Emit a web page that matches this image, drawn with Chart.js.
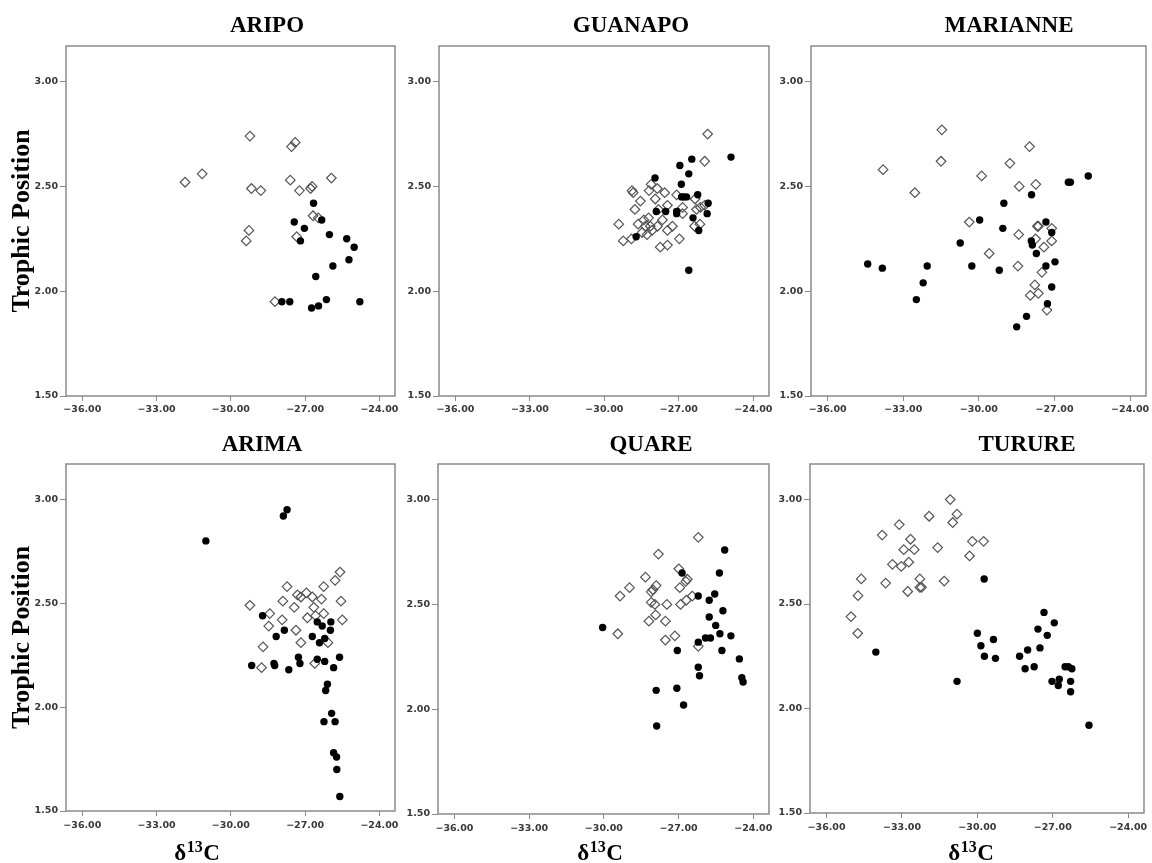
<!DOCTYPE html>
<html>
<head>
<meta charset="utf-8">
<title>Trophic position vs δ13C</title>
<script src="https://cdn.jsdelivr.net/npm/chart.js@4/dist/chart.umd.min.js"></script>
<style>
  html, body { margin: 0; padding: 0; background: #fff; }
  #page { position: relative; width: 1152px; height: 863px; overflow: hidden; background: #fff; }
  #page canvas { position: absolute; background: #fff; }
</style>
</head>
<body>
<div id="page"></div>
<script>
// Tick values shared by every panel
const xTicks = [-36, -33, -30, -27, -24];
const yTicks = [1.5, 2.0, 2.5, 3.0];

// [δ13C, trophic position] for each fish: open diamonds and filled dots
const aripoOpen = [[-31.85,2.52],[-31.16,2.56],[-29.23,2.74],[-29.17,2.49],[-28.79,2.48],[-29.27,2.29],[-29.38,2.24],[-27.55,2.69],[-27.40,2.71],[-27.60,2.53],[-27.23,2.48],[-26.78,2.49],[-26.72,2.50],[-25.94,2.54],[-26.68,2.36],[-26.47,2.35],[-27.34,2.26],[-28.22,1.95]];
const aripoFilled = [[-26.66,2.42],[-27.44,2.33],[-26.33,2.34],[-27.03,2.30],[-27.19,2.24],[-26.02,2.27],[-25.32,2.25],[-25.02,2.21],[-25.23,2.15],[-25.88,2.12],[-26.57,2.07],[-27.94,1.95],[-27.62,1.95],[-26.14,1.96],[-26.46,1.93],[-26.74,1.92],[-24.79,1.95]];

const guanapoOpen = [[-25.84,2.75],[-25.96,2.62],[-28.89,2.48],[-28.84,2.47],[-28.12,2.51],[-27.87,2.49],[-28.20,2.48],[-27.57,2.47],[-27.95,2.44],[-28.55,2.43],[-28.77,2.39],[-27.09,2.46],[-27.46,2.41],[-26.35,2.44],[-26.85,2.40],[-26.29,2.39],[-26.13,2.40],[-25.96,2.41],[-27.82,2.39],[-29.42,2.32],[-29.24,2.24],[-28.64,2.32],[-28.41,2.34],[-28.22,2.35],[-28.35,2.31],[-28.15,2.31],[-28.48,2.28],[-28.28,2.27],[-28.08,2.29],[-27.86,2.31],[-27.66,2.34],[-27.26,2.31],[-27.46,2.29],[-26.98,2.25],[-27.75,2.21],[-27.46,2.22],[-26.85,2.37],[-26.37,2.31],[-26.15,2.32],[-28.91,2.25]];
const guanapoFilled = [[-24.90,2.64],[-26.48,2.63],[-26.96,2.60],[-26.60,2.56],[-27.96,2.54],[-26.90,2.51],[-26.89,2.45],[-26.80,2.45],[-26.69,2.45],[-26.24,2.46],[-25.82,2.42],[-25.86,2.37],[-26.43,2.35],[-26.20,2.29],[-27.09,2.38],[-27.09,2.37],[-27.53,2.38],[-27.91,2.38],[-28.72,2.26],[-26.60,2.10]];

const marianneOpen = [[-31.47,2.77],[-31.50,2.62],[-33.80,2.58],[-32.54,2.47],[-29.89,2.55],[-30.38,2.33],[-29.59,2.18],[-28.77,2.61],[-27.99,2.69],[-28.40,2.50],[-27.74,2.51],[-28.42,2.27],[-28.45,2.12],[-27.68,2.31],[-27.64,2.31],[-27.75,2.25],[-27.42,2.21],[-27.11,2.30],[-27.11,2.24],[-27.50,2.09],[-27.78,2.03],[-27.64,1.99],[-27.96,1.98],[-27.30,1.91]];
const marianneFilled = [[-34.41,2.13],[-33.83,2.11],[-32.05,2.12],[-32.21,2.04],[-32.48,1.96],[-30.74,2.23],[-29.97,2.34],[-30.28,2.12],[-29.05,2.30],[-29.01,2.42],[-29.19,2.10],[-27.91,2.46],[-27.92,2.24],[-27.88,2.22],[-27.72,2.18],[-27.34,2.33],[-27.11,2.28],[-26.98,2.14],[-27.34,2.12],[-27.11,2.02],[-27.28,1.94],[-28.11,1.88],[-28.50,1.83],[-26.45,2.52],[-26.37,2.52],[-25.66,2.55]];

const arimaOpen = [[-29.23,2.49],[-27.73,2.58],[-27.31,2.54],[-27.17,2.53],[-26.95,2.55],[-26.71,2.53],[-27.90,2.51],[-27.44,2.48],[-26.25,2.58],[-25.79,2.61],[-25.59,2.65],[-26.34,2.52],[-26.65,2.48],[-25.55,2.51],[-25.50,2.42],[-28.43,2.45],[-27.93,2.42],[-28.47,2.39],[-26.91,2.43],[-26.58,2.44],[-26.25,2.45],[-27.37,2.37],[-27.17,2.31],[-28.70,2.29],[-26.08,2.31],[-28.76,2.19],[-26.61,2.21]];
const arimaFilled = [[-31.01,2.80],[-27.88,2.92],[-27.73,2.95],[-28.72,2.44],[-27.84,2.37],[-28.17,2.34],[-26.51,2.41],[-26.31,2.39],[-25.96,2.41],[-25.98,2.37],[-26.71,2.34],[-26.21,2.33],[-26.42,2.31],[-29.16,2.20],[-28.26,2.21],[-28.23,2.20],[-27.66,2.18],[-27.27,2.24],[-27.21,2.21],[-26.51,2.23],[-26.21,2.22],[-25.85,2.19],[-25.61,2.24],[-26.10,2.11],[-26.17,2.08],[-26.24,1.93],[-25.93,1.97],[-25.79,1.93],[-25.85,1.78],[-25.73,1.76],[-25.72,1.70],[-25.60,1.57]];

const quareOpen = [[-29.44,2.36],[-29.35,2.54],[-28.97,2.58],[-28.33,2.63],[-27.81,2.74],[-28.03,2.57],[-28.10,2.56],[-27.90,2.59],[-28.10,2.51],[-27.95,2.50],[-27.92,2.45],[-28.19,2.42],[-27.53,2.42],[-27.47,2.50],[-27.53,2.33],[-27.15,2.35],[-26.99,2.67],[-26.95,2.58],[-26.92,2.50],[-26.71,2.61],[-26.65,2.62],[-26.69,2.52],[-26.45,2.54],[-26.21,2.82],[-26.21,2.30]];
const quareFilled = [[-30.05,2.39],[-27.90,2.09],[-27.88,1.92],[-27.07,2.10],[-26.80,2.02],[-27.05,2.28],[-26.86,2.65],[-26.21,2.54],[-26.21,2.32],[-26.21,2.20],[-26.16,2.16],[-25.92,2.34],[-25.72,2.34],[-25.77,2.52],[-25.77,2.44],[-25.55,2.55],[-25.51,2.40],[-25.36,2.65],[-25.34,2.36],[-25.22,2.47],[-25.26,2.28],[-25.15,2.76],[-24.90,2.35],[-24.56,2.24],[-24.46,2.15],[-24.41,2.13]];

const turureOpen = [[-31.08,3.00],[-30.81,2.93],[-30.98,2.89],[-31.92,2.92],[-33.11,2.88],[-33.79,2.83],[-32.66,2.81],[-32.93,2.76],[-32.51,2.76],[-31.58,2.77],[-30.20,2.80],[-29.75,2.80],[-30.31,2.73],[-33.38,2.69],[-33.03,2.68],[-32.73,2.70],[-34.62,2.62],[-33.65,2.60],[-32.29,2.62],[-32.29,2.58],[-32.22,2.58],[-32.77,2.56],[-31.32,2.61],[-34.75,2.54],[-35.03,2.44],[-34.76,2.36]];
const turureFilled = [[-34.04,2.27],[-30.81,2.13],[-29.73,2.62],[-30.00,2.36],[-29.86,2.30],[-29.72,2.25],[-29.36,2.33],[-29.28,2.24],[-28.32,2.25],[-28.00,2.28],[-28.10,2.19],[-27.74,2.20],[-27.59,2.38],[-27.51,2.29],[-27.35,2.46],[-27.22,2.35],[-26.94,2.41],[-27.03,2.13],[-26.74,2.14],[-26.78,2.11],[-26.51,2.20],[-26.38,2.20],[-26.24,2.19],[-26.29,2.13],[-26.29,2.08],[-25.56,1.92]];

// Where each panel sits: canvas box [left, top, width, height] and the space
// reserved around its plot area (y axis width, title band, right gap, x axis height)
const panels = [
  { name: 'ARIPO',    open: aripoOpen,    filled: aripoFilled,    box: [0, 0, 401, 430],     inset: { left: 66, top: 46, right: 1, bottom: 34 }, titleX: 267, titleY: 32, yTitle: true },
  { name: 'GUANAPO',  open: guanapoOpen,  filled: guanapoFilled,  box: [401, 0, 374, 430],   inset: { left: 38, top: 46, right: 1, bottom: 34 }, titleX: 230, titleY: 32 },
  { name: 'MARIANNE', open: marianneOpen, filled: marianneFilled, box: [775, 0, 377, 430],   inset: { left: 36, top: 46, right: 5, bottom: 34 }, titleX: 234, titleY: 32 },
  { name: 'ARIMA',    open: arimaOpen,    filled: arimaFilled,    box: [0, 430, 401, 433],   inset: { left: 66, top: 34, right: 1, bottom: 52 }, titleX: 262, titleY: 21, yTitle: true, xLabelX: 197 },
  { name: 'QUARE',    open: quareOpen,    filled: quareFilled,    box: [401, 430, 374, 433], inset: { left: 37, top: 34, right: 1, bottom: 49 }, titleX: 250, titleY: 21, xLabelX: 199 },
  { name: 'TURURE',   open: turureOpen,   filled: turureFilled,   box: [775, 430, 377, 433], inset: { left: 35, top: 34, right: 8, bottom: 50 }, titleX: 252, titleY: 21, xLabelX: 196 }
];

const axisGrey = '#8a8a8a';
const tickInk = '#383838';
const tickFont = { family: 'DejaVu Sans', size: 9.5, weight: 'bold' };
const serif = '"Liberation Serif", "DejaVu Serif", serif';

// SPSS style labels: two decimals and a real minus sign
const fmt = v => Number(v).toFixed(2).replace('-', '\u2212');
const toPoints = arr => arr.map(([x, y]) => ({ x, y }));

// grey box round the plot area
const framePlugin = {
  id: 'frame',
  beforeDatasetsDraw(chart) {
    const { ctx, chartArea: a } = chart;
    ctx.save();
    ctx.strokeStyle = axisGrey;
    ctx.lineWidth = 1.5;
    ctx.strokeRect(a.left, a.top, a.right - a.left, a.bottom - a.top);
    ctx.restore();
  }
};

// river name above the plot and the δ13C label under the bottom row
const panelText = {
  id: 'panelText',
  afterDraw(chart, args, opts) {
    const ctx = chart.ctx;
    ctx.save();
    ctx.fillStyle = '#000';
    ctx.textBaseline = 'alphabetic';
    ctx.textAlign = 'center';
    ctx.font = 'bold 23px ' + serif;
    ctx.fillText(opts.title, opts.titleX, opts.titleY);

    if (opts.xLabelX != null) {
      const big = 'bold 23px ' + serif;
      const small = 'bold 16px ' + serif;
      ctx.font = big;
      const wD = ctx.measureText('δ').width;
      const wC = ctx.measureText('C').width;
      ctx.font = small;
      const w13 = ctx.measureText('13').width;
      const base = chart.height - 3;
      let x = opts.xLabelX - (wD + w13 + wC + 1) / 2;
      ctx.textAlign = 'left';
      ctx.font = big;
      ctx.fillText('δ', x, base);
      x += wD + 0.5;
      ctx.font = small;
      ctx.fillText('13', x, base - 8.5);
      x += w13 + 0.5;
      ctx.font = big;
      ctx.fillText('C', x, base);
    }
    ctx.restore();
  }
};

const page = document.getElementById('page');

panels.forEach(p => {
  const canvas = document.createElement('canvas');
  canvas.width = p.box[2];
  canvas.height = p.box[3];
  canvas.style.left = p.box[0] + 'px';
  canvas.style.top = p.box[1] + 'px';
  page.appendChild(canvas);

  const bottomRow = p.box[1] > 0;

  new Chart(canvas, {
    type: 'scatter',
    data: {
      datasets: [
        {
          label: 'filled',
          data: toPoints(p.filled),
          pointStyle: 'circle',
          pointRadius: 3.7,
          pointHoverRadius: 3.7,
          pointBackgroundColor: '#000',
          pointBorderColor: '#000',
          pointBorderWidth: 0
        },
        {
          label: 'open',
          data: toPoints(p.open),
          pointStyle: 'rectRot',
          pointRadius: 4.8,
          pointHoverRadius: 4.8,
          pointBackgroundColor: 'rgba(0,0,0,0)',
          pointBorderColor: '#555',
          pointBorderWidth: 1.2
        }
      ]
    },
    options: {
      responsive: false,
      animation: false,
      devicePixelRatio: 1,
      layout: { padding: { top: p.inset.top, right: p.inset.right, left: 0, bottom: 0 } },
      plugins: {
        legend: { display: false },
        tooltip: { enabled: false },
        panelText: { title: p.name, titleX: p.titleX, titleY: p.titleY, xLabelX: p.xLabelX }
      },
      scales: {
        x: {
          type: 'linear',
          min: -36.66,
          max: -23.37,
          afterBuildTicks: s => { s.ticks = xTicks.map(v => ({ value: v })); },
          afterFit: s => {
            s.height = p.inset.bottom;
            s.paddingLeft = 0;
            s.paddingRight = 0;
          },
          grid: { drawOnChartArea: false, tickLength: 5, color: axisGrey, lineWidth: 1 },
          border: { display: false },
          ticks: {
            padding: bottomRow ? 4 : 3,
            maxRotation: 0,
            autoSkip: false,
            color: tickInk,
            font: tickFont,
            callback: fmt
          }
        },
        y: {
          type: 'linear',
          min: 1.5,
          max: 3.17,
          afterBuildTicks: s => { s.ticks = yTicks.map(v => ({ value: v })); },
          afterFit: s => {
            s.width = p.inset.left;
            s.paddingTop = 0;
            s.paddingBottom = 0;
          },
          grid: { drawOnChartArea: false, tickLength: 6, color: axisGrey, lineWidth: 1 },
          border: { display: false },
          ticks: {
            padding: 2,
            autoSkip: false,
            color: tickInk,
            font: tickFont,
            callback: fmt
          },
          title: {
            display: !!p.yTitle,
            text: 'Trophic Position',
            color: '#000',
            font: { family: serif, size: 26, weight: 'bold' },
            padding: { top: 7, bottom: 0 }
          }
        }
      }
    },
    plugins: [framePlugin, panelText]
  });
});
</script>
</body>
</html>
